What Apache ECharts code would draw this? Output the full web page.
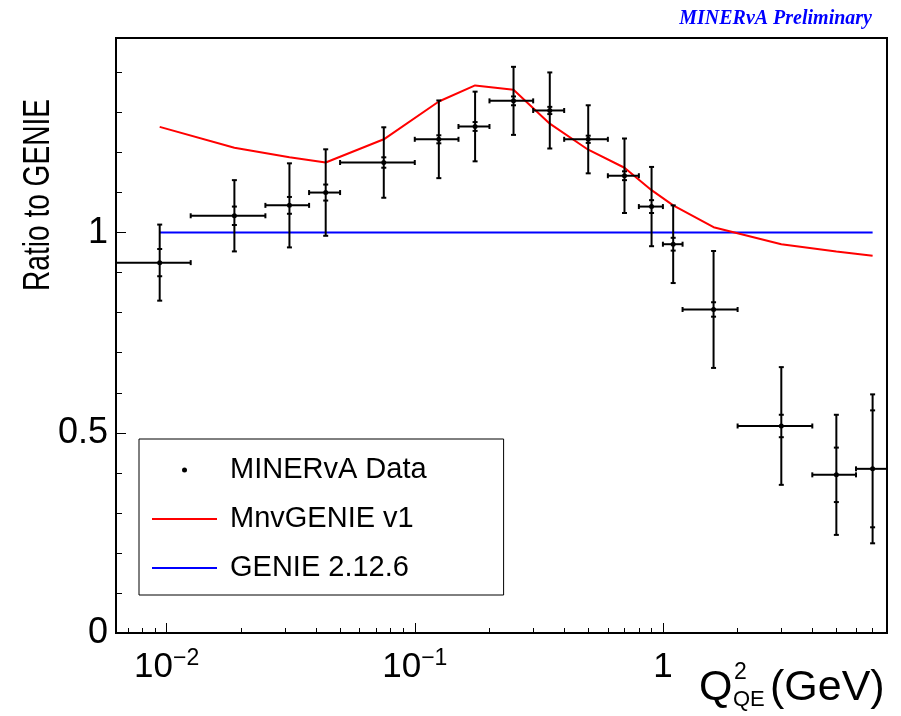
<!DOCTYPE html>
<html>
<head>
<meta charset="utf-8">
<script src="https://cdn.jsdelivr.net/npm/echarts@6/dist/echarts.min.js"></script>
<style>
  html, body { margin: 0; padding: 0; background: #fff; }
  #chart { width: 901px; height: 716px; }
</style>
</head>
<body>
<div id="chart"></div>
<script>
// Q^2_QE bins (GeV^2): lower edge, upper edge and bin centre
const binLow    = [0.00625, 0.0125, 0.025, 0.0375, 0.05, 0.1, 0.15, 0.2, 0.3, 0.4, 0.6, 0.8, 1.0, 1.2, 2.0, 4.0, 6.0];
const binHigh   = [0.0125, 0.025, 0.0375, 0.05, 0.1, 0.15, 0.2, 0.3, 0.4, 0.6, 0.8, 1.0, 1.2, 2.0, 4.0, 6.0, 8.0];
const binCenter = [0.009375, 0.01875, 0.03125, 0.04375, 0.075, 0.125, 0.175, 0.25, 0.35, 0.5, 0.7, 0.9, 1.1, 1.6, 3.0, 5.0, 7.0];

// MINERvA data / GENIE ratio with statistical and total uncertainties
const dataRatio = [0.925, 1.042, 1.068, 1.100, 1.175, 1.233, 1.265, 1.329, 1.305, 1.233, 1.142, 1.065, 0.971, 0.808, 0.517, 0.395, 0.410];
const statErr   = [0.034, 0.023, 0.021, 0.020, 0.013, 0.010, 0.011, 0.011, 0.009, 0.009, 0.011, 0.016, 0.016, 0.018, 0.028, 0.068, 0.146];
const totalErr  = [0.095, 0.089, 0.105, 0.108, 0.088, 0.097, 0.087, 0.085, 0.095, 0.085, 0.093, 0.099, 0.097, 0.146, 0.147, 0.150, 0.186];

// Model predictions relative to GENIE 2.12.6
const mnvGenieRatio = [1.264, 1.212, 1.188, 1.175, 1.233, 1.3275, 1.3675, 1.357, 1.272, 1.207, 1.162, 1.106, 1.068, 1.0135, 0.971, 0.9525, 0.942];
const genieRatio    = [1, 1, 1, 1, 1, 1, 1, 1, 1, 1, 1, 1, 1, 1, 1, 1, 1];

// Axis ticks and labels
const xMajorTicks = [0.01, 0.1, 1];
const xTickBase   = ['10', '10', '1'];
const xTickExp    = ['\u22122', '\u22121', ''];
const xMinorTicks = [0.007, 0.008, 0.009, 0.02, 0.03, 0.04, 0.05, 0.06, 0.07, 0.08, 0.09,
                     0.2, 0.3, 0.4, 0.5, 0.6, 0.7, 0.8, 0.9, 2, 3, 4, 5, 6, 7];
const yMajorTicks = [0, 0.5, 1];
const yTickLabels = ['0', '0.5', '1'];
const yMinorTicks = [0.1, 0.2, 0.3, 0.4, 0.6, 0.7, 0.8, 0.9, 1.1, 1.2, 1.3, 1.4];

const X_MIN = 0.00625, X_MAX = 8, Y_MIN = 0, Y_MAX = 1.486;
const FONT = 'Liberation Sans';
const LINE_ICON = 'path://M0,0H65V2H0Z';

const chart = echarts.init(document.getElementById('chart'), null, { renderer: 'canvas' });

function nearestIndex(arr, v) {
  let best = 0;
  for (let i = 1; i < arr.length; i++) {
    if (Math.abs(arr[i] - v) < Math.abs(arr[best] - v)) best = i;
  }
  return best;
}

// Data points: horizontal bin width, total error bar, inner statistical ticks
function renderErrorBar(params, api) {
  const x = api.value(0), y = api.value(1);
  const lo = api.value(2), hi = api.value(3);
  const st = api.value(4), tot = api.value(5);
  const c = api.coord([x, y]);
  const l = api.coord([lo, y]), r = api.coord([hi, y]);
  const t = api.coord([x, y + tot]), b = api.coord([x, y - tot]);
  const s1 = api.coord([x, y + st]), s2 = api.coord([x, y - st]);
  const stroke = { stroke: '#000', lineWidth: 2, fill: null };
  const cap = 2.5;
  const line = (x1, y1, x2, y2) => ({ type: 'line', shape: { x1, y1, x2, y2 }, style: stroke });
  return {
    type: 'group',
    children: [
      line(l[0], c[1], r[0], c[1]),
      line(l[0], c[1] - cap, l[0], c[1] + cap),
      line(r[0], c[1] - cap, r[0], c[1] + cap),
      line(c[0], t[1], c[0], b[1]),
      line(c[0] - cap, t[1], c[0] + cap, t[1]),
      line(c[0] - cap, b[1], c[0] + cap, b[1]),
      line(c[0] - cap, s1[1], c[0] + cap, s1[1]),
      line(c[0] - cap, s2[1], c[0] + cap, s2[1]),
      { type: 'circle', shape: { cx: c[0], cy: c[1], r: 2.5 }, style: { fill: '#000' } }
    ]
  };
}

const option = {
  animation: false,
  backgroundColor: '#fff',
  title: {
    text: 'MINERvA Preliminary',
    right: 24, top: 4,
    textStyle: { fontFamily: 'Liberation Serif', fontStyle: 'italic', fontWeight: 'bold', fontSize: 20, color: '#0000ff' }
  },
  grid: {
    left: 116, right: 14, top: 38, bottom: 83,
    show: true, borderColor: '#000', borderWidth: 2, backgroundColor: 'transparent'
  },
  legend: {
    orient: 'vertical',
    left: 139, top: 439,
    padding: [16, 77, 12, 13],
    borderColor: '#000', borderWidth: 1,
    itemWidth: 65, itemHeight: 5, itemGap: 19,
    selectedMode: false,
    textStyle: { fontFamily: FONT, fontSize: 29, color: '#000', lineHeight: 30, padding: [0, 0, 0, 8] },
    data: [
      { name: 'MINERvA Data', icon: 'circle' },
      { name: 'MnvGENIE v1', icon: LINE_ICON },
      { name: 'GENIE 2.12.6', icon: LINE_ICON }
    ]
  },
  xAxis: [
    {
      type: 'log', logBase: 10, min: X_MIN, max: X_MAX, position: 'bottom',
      axisLine: { show: true, lineStyle: { color: '#000', width: 2 } },
      axisTick: { show: true, inside: true, length: 10, customValues: xMajorTicks, lineStyle: { color: '#000', width: 1 } },
      axisLabel: {
        customValues: xMajorTicks, margin: 14, color: '#000',
        formatter: v => {
          const i = nearestIndex(xMajorTicks.map(Math.log10), Math.log10(v));
          return xTickExp[i] ? '{b|' + xTickBase[i] + '}{s|' + xTickExp[i] + '}' : '{b|' + xTickBase[i] + '}';
        },
        rich: {
          b: { fontFamily: FONT, fontSize: 35, color: '#000', lineHeight: 40 },
          s: { fontFamily: FONT, fontSize: 23, color: '#000', lineHeight: 22, verticalAlign: 'top' }
        }
      },
      splitLine: { show: false }
    },
    {
      type: 'log', logBase: 10, min: X_MIN, max: X_MAX, position: 'bottom',
      axisLine: { show: false },
      axisTick: { show: true, inside: true, length: 5, customValues: xMinorTicks, lineStyle: { color: '#000', width: 1 } },
      axisLabel: { show: false },
      splitLine: { show: false }
    }
  ],
  yAxis: [
    {
      type: 'value', min: Y_MIN, max: Y_MAX, position: 'left',
      axisLine: { show: true, lineStyle: { color: '#000', width: 2 } },
      axisTick: { show: true, inside: true, length: 10, customValues: yMajorTicks, lineStyle: { color: '#000', width: 1 } },
      axisLabel: {
        customValues: yMajorTicks, margin: 8, color: '#000', fontFamily: FONT, fontSize: 36,
        formatter: v => yTickLabels[nearestIndex(yMajorTicks, v)]
      },
      splitLine: { show: false }
    },
    {
      type: 'value', min: Y_MIN, max: Y_MAX, position: 'left',
      axisLine: { show: false },
      axisTick: { show: true, inside: true, length: 6, customValues: yMinorTicks, lineStyle: { color: '#000', width: 1 } },
      axisLabel: { show: false },
      splitLine: { show: false }
    }
  ],
  graphic: [
    {
      type: 'text', x: 39, y: 195, rotation: Math.PI / 2, scaleX: 0.78, scaleY: 1.05,
      style: { text: 'Ratio to GENIE', fontFamily: FONT, fontSize: 36, fill: '#000', textAlign: 'center', textVerticalAlign: 'middle' }
    },
    { type: 'text', x: 699, y: 688, style: { text: 'Q', fontFamily: FONT, fontSize: 43, fill: '#000', textAlign: 'left', textVerticalAlign: 'middle' } },
    { type: 'text', x: 734, y: 673, style: { text: '2', fontFamily: FONT, fontSize: 23, fill: '#000', textAlign: 'left', textVerticalAlign: 'middle' } },
    { type: 'text', x: 733, y: 700, style: { text: 'QE', fontFamily: FONT, fontSize: 22, fill: '#000', textAlign: 'left', textVerticalAlign: 'middle' } },
    { type: 'text', x: 770, y: 688, style: { text: '(GeV)', fontFamily: FONT, fontSize: 43, fill: '#000', textAlign: 'left', textVerticalAlign: 'middle' } }
  ],
  series: [
    {
      name: 'GENIE 2.12.6', type: 'line', xAxisIndex: 0, yAxisIndex: 0,
      data: binCenter.map((c, i) => [c, genieRatio[i]]),
      symbol: 'none', showSymbol: false, color: '#0000ff',
      lineStyle: { color: '#0000ff', width: 2 }, z: 2
    },
    {
      name: 'MnvGENIE v1', type: 'line', xAxisIndex: 0, yAxisIndex: 0,
      data: binCenter.map((c, i) => [c, mnvGenieRatio[i]]),
      symbol: 'none', showSymbol: false, color: '#ff0000',
      lineStyle: { color: '#ff0000', width: 2 }, z: 3
    },
    {
      name: 'MINERvA Data', type: 'custom', xAxisIndex: 0, yAxisIndex: 0,
      color: '#000', clip: true, z: 4,
      dimensions: ['q2', 'ratio', 'low', 'high', 'stat', 'total'],
      encode: { x: 0, y: 1 },
      data: binCenter.map((c, i) => [c, dataRatio[i], binLow[i], binHigh[i], statErr[i], totalErr[i]]),
      renderItem: renderErrorBar
    }
  ]
};

chart.setOption(option);
</script>
</body>
</html>
